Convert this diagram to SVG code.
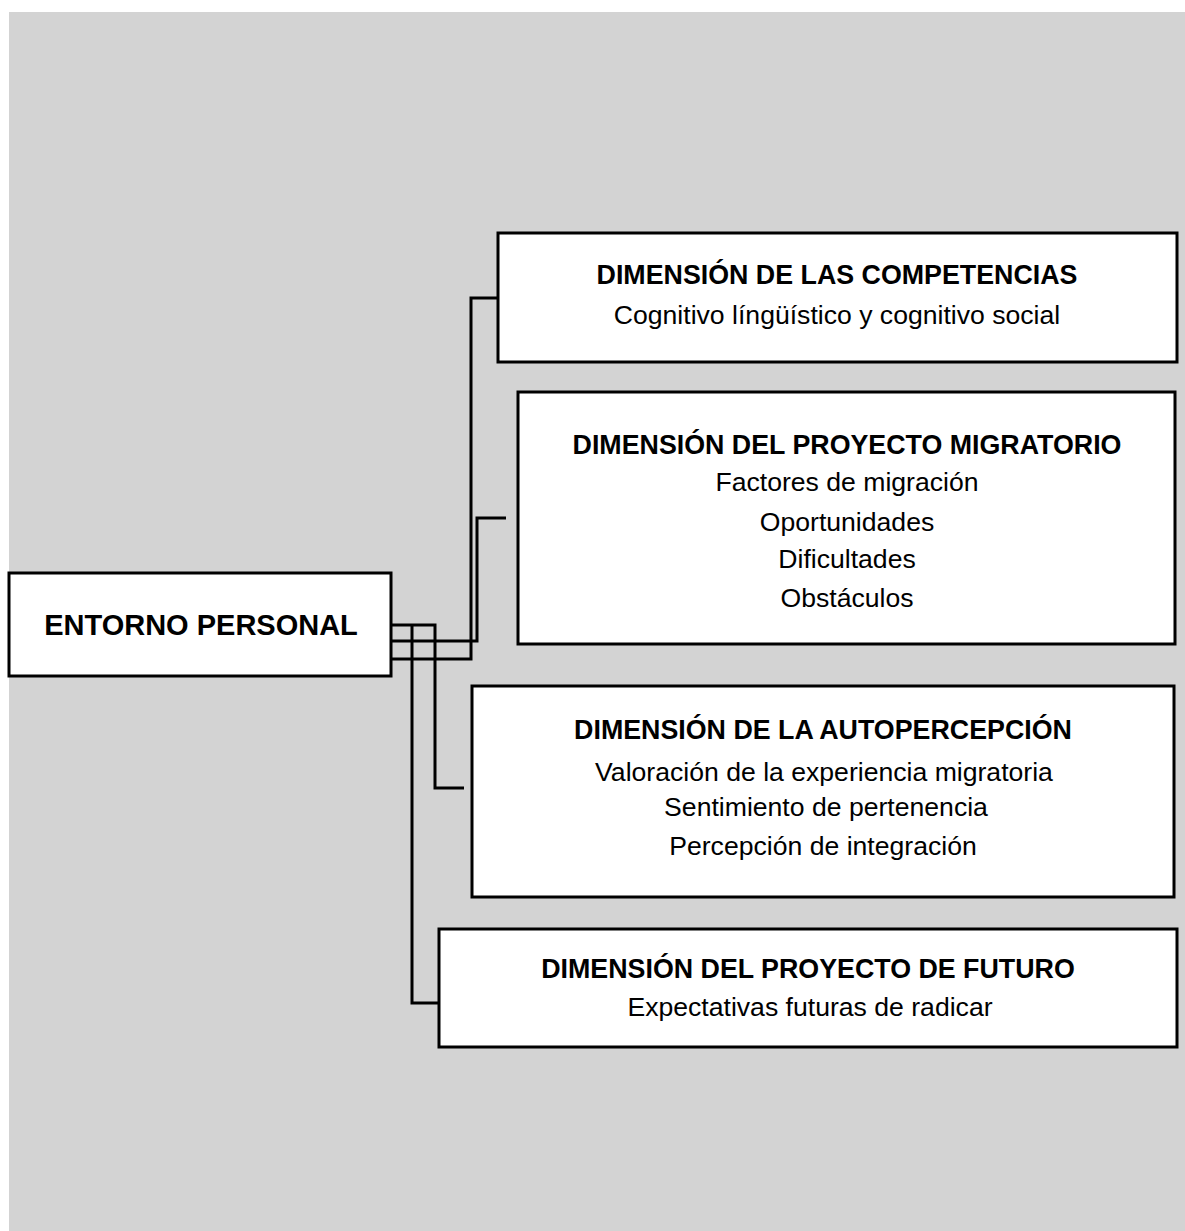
<svg xmlns="http://www.w3.org/2000/svg" width="1185" height="1231" viewBox="0 0 1185 1231">
  <style>
    .box { fill: #ffffff; stroke: #000000; stroke-width: 3; }
    .wire { fill: none; stroke: #000000; stroke-width: 3; stroke-linejoin: miter; }
    .title { font-family: "Liberation Sans", Arial, sans-serif; font-weight: bold; font-size: 26.8px; fill: #000; text-anchor: middle; }
    .item { font-family: "Liberation Sans", Arial, sans-serif; font-size: 26.6px; fill: #000; text-anchor: middle; }
    .root { font-family: "Liberation Sans", Arial, sans-serif; font-weight: bold; font-size: 29px; fill: #000; text-anchor: middle; }
  </style>

  <rect x="0" y="0" width="1185" height="1231" fill="#ffffff"/>
  <rect x="9" y="12" width="1176" height="1219" fill="#d3d3d3"/>

  <!-- connectors -->
  <g id="connectors">
    <polyline class="wire" points="391,659 471,659 471,298 498,298"/>
    <polyline class="wire" points="391,641 477,641 477,518 506,518"/>
    <polyline class="wire" points="391,625 435,625 435,788 464,788"/>
    <polyline class="wire" points="412,625 412,1003 439,1003"/>
  </g>

  <g id="entorno-personal">
    <rect class="box" x="9" y="573" width="382" height="103"/>
    <text class="root" x="201" y="635">ENTORNO PERSONAL</text>
  </g>

  <g id="dimension-competencias">
    <rect class="box" x="498" y="233" width="679" height="129"/>
    <text class="title" x="837" y="284">DIMENSIÓN DE LAS COMPETENCIAS</text>
    <text class="item" x="837" y="324">Cognitivo língüístico y cognitivo social</text>
  </g>

  <g id="dimension-proyecto-migratorio">
    <rect class="box" x="518" y="392" width="657" height="252"/>
    <text class="title" x="847" y="454">DIMENSIÓN DEL PROYECTO MIGRATORIO</text>
    <text class="item" x="847" y="491">Factores de migración</text>
    <text class="item" x="847" y="531">Oportunidades</text>
    <text class="item" x="847" y="568">Dificultades</text>
    <text class="item" x="847" y="607">Obstáculos</text>
  </g>

  <g id="dimension-autopercepcion">
    <rect class="box" x="472" y="686" width="702" height="211"/>
    <text class="title" x="823" y="739">DIMENSIÓN DE LA AUTOPERCEPCIÓN</text>
    <text class="item" x="824" y="781">Valoración de la experiencia migratoria</text>
    <text class="item" x="826" y="816">Sentimiento de pertenencia</text>
    <text class="item" x="823" y="855">Percepción de integración</text>
  </g>

  <g id="dimension-proyecto-futuro">
    <rect class="box" x="439" y="929" width="738" height="118"/>
    <text class="title" x="808" y="978">DIMENSIÓN DEL PROYECTO DE FUTURO</text>
    <text class="item" x="810" y="1016">Expectativas futuras de radicar</text>
  </g>
</svg>
